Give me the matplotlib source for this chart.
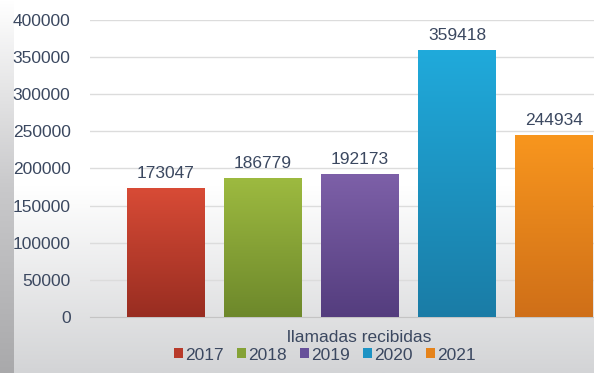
import numpy as np
import matplotlib.pyplot as plt
from matplotlib.colors import LinearSegmentedColormap
from matplotlib.patches import Patch

plt.rcParams['font.family'] = ['Liberation Sans', 'DejaVu Sans']

years = ['2017', '2018', '2019', '2020', '2021']
calls = [173047, 186779, 192173, 359418, 244934]
category = 'llamadas recibidas'

# (top, bottom) shades for each bar's vertical gradient
shades = [('#d84b36', '#982d21'),
          ('#9dba40', '#6d882b'),
          ('#7d60a8', '#543d7e'),
          ('#20aadb', '#1a7ca6'),
          ('#f8961e', '#cf6f18')]
legend_colors = ['#b83a2a', '#85a236', '#67509a', '#1d93c4', '#e5831b']

TEXT = '#3b4860'
W, H = 594, 373

fig = plt.figure(figsize=(W / 100, H / 100), dpi=100)

# soft white-to-grey backdrop
bg = fig.add_axes([0, 0, 1, 1], zorder=-10)
grad = np.linspace(0, 1, 256).reshape(-1, 1)
bg_cmap = LinearSegmentedColormap.from_list('bg', ['#ffffff', '#ffffff', '#d3d4d6'])
bg.imshow(grad, aspect='auto', cmap=bg_cmap, extent=[0, 1, 0, 1], origin='upper')
strip_cmap = LinearSegmentedColormap.from_list('strip', ['#ffffff', '#c9c9cb', '#a9a9ab'])
bg.imshow(grad, aspect='auto', cmap=strip_cmap, extent=[0, 14 / W, 0, 1], origin='upper')
bg.set_xlim(0, 1)
bg.set_ylim(0, 1)
bg.axis('off')

ax = fig.add_axes([90 / W, (H - 317) / H, 1 - 90 / W, 297 / H])
ax.patch.set_alpha(0)
x = np.arange(len(years))
bars = ax.bar(x, calls, width=0.8, color='none', zorder=3)

for bar, (top, bottom) in zip(bars, shades):
    cmap = LinearSegmentedColormap.from_list('b', [top, bottom])
    x0, w, h = bar.get_x(), bar.get_width(), bar.get_height()
    ax.imshow(grad, aspect='auto', cmap=cmap, extent=[x0, x0 + w, 0, h],
              origin='upper', zorder=3)
    ax.text(x0 + w / 2, h + 10000, str(int(h)),
            ha='center', va='bottom', fontsize=12.5, color=TEXT)

ax.set_xlim(-0.78, 4.41)
ax.set_ylim(0, 400000)
ax.set_yticks(np.arange(0, 400001, 50000))
ax.yaxis.grid(True, color='#dcdcdc', linewidth=1)
ax.set_axisbelow(True)
ax.set_xticks([])
for side in ['top', 'right', 'left']:
    ax.spines[side].set_visible(False)
ax.spines['bottom'].set_color('#c4c4c4')
ax.tick_params(axis='y', length=0, pad=14, labelsize=12.5, labelcolor=TEXT)

fig.text(359 / W, 1 - 338 / H, category, ha='center', va='center',
         fontsize=12.5, color=TEXT)

handles = [Patch(facecolor=c, edgecolor='none') for c in legend_colors]
fig.legend(handles, years, loc='center', bbox_to_anchor=(325 / W, 1 - 355 / H),
           ncol=5, frameon=False, fontsize=12.5, labelcolor=TEXT,
           handlelength=0.5, handleheight=0.5, handletextpad=0.15,
           columnspacing=0.75, borderpad=0)

fig.savefig('out.png', dpi=100)
